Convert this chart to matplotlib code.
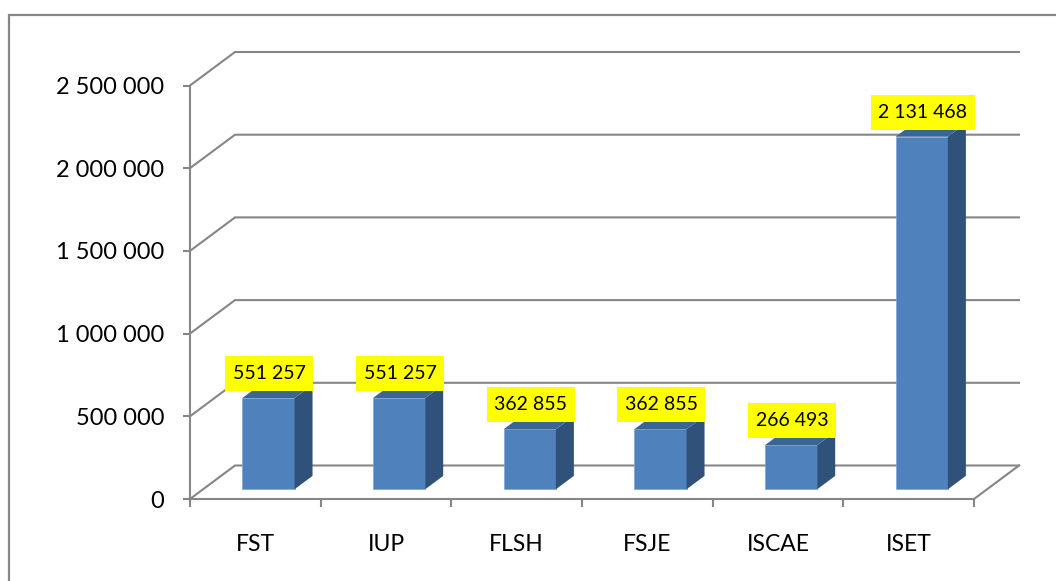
import matplotlib.pyplot as plt
from matplotlib.patches import Polygon, Rectangle
from matplotlib.ticker import FuncFormatter

categories = ['FST', 'IUP', 'FLSH', 'FSJE', 'ISCAE', 'ISET']
values = [551257, 551257, 362855, 362855, 266493, 2131468]
y_ticks = [0, 500000, 1000000, 1500000, 2000000, 2500000]

GRID = '#868686'
FRONT = '#4F81BD'
SIDE = '#30527A'
TOP = '#3A6595'

# pixels per data unit
PX_X = 130.67
PX_Y = 413.5 / 2500000

# depth of the fake 3d box, in data units
DEPTH_X = 45 / PX_X
DEPTH_Y = 33.5 / PX_Y
BAR_START = 0.29
BAR_DEPTH = 0.40
BAR_SHIFT = 0.10
BAR_WIDTH = 0.40


def fmt(v):
    return f'{int(v):,}'.replace(',', ' ')


plt.rcParams['font.family'] = ['Lato', 'DejaVu Sans']

fig = plt.figure(figsize=(10.56, 5.81), dpi=100)
ax = fig.add_axes([190 / 1056, 1 - 499 / 581, 784 / 1056, 413.5 / 581])
ax.set_xlim(0, 6)
ax.set_ylim(0, 2500000)
ax.patch.set_visible(False)

# outer chart frame, runs off the right and bottom of the image
fig.add_artist(Rectangle((9 / 1056, -0.05), 1.1, 1 + 0.05 - 15 / 581,
                         transform=fig.transFigure, fc='none', ec=GRID, lw=1.6))

for s in ['top', 'right']:
    ax.spines[s].set_visible(False)
for s in ['left', 'bottom']:
    ax.spines[s].set_color(GRID)
    ax.spines[s].set_linewidth(1.5)

# wall gridlines
for v in y_ticks:
    ax.plot([0, DEPTH_X, 6 + DEPTH_X], [v, v + DEPTH_Y, v + DEPTH_Y],
            color=GRID, lw=1.5, clip_on=False, zorder=1, solid_joinstyle='miter')
# right edge of the floor
ax.plot([6, 6 + DEPTH_X], [0, DEPTH_Y], color=GRID, lw=1.5, clip_on=False, zorder=1)

renderer = fig.canvas.get_renderer()

for i, v in enumerate(values):
    x0 = i + 0.5 + BAR_SHIFT - BAR_WIDTH / 2
    x1 = x0 + BAR_WIDTH
    y0 = BAR_START * DEPTH_Y
    y1 = y0 + v
    dx = BAR_DEPTH * DEPTH_X
    dy = BAR_DEPTH * DEPTH_Y
    ax.add_patch(Polygon([(x0, y0), (x1, y0), (x1, y1), (x0, y1)], fc=FRONT,
                         ec='#7FA6D6', lw=0.5, clip_on=False, zorder=3))
    ax.add_patch(Polygon([(x1, y0), (x1 + dx, y0 + dy), (x1 + dx, y1 + dy), (x1, y1)],
                         fc=SIDE, ec='none', clip_on=False, zorder=3))
    ax.add_patch(Polygon([(x0, y1), (x1, y1), (x1 + dx, y1 + dy), (x0 + dx, y1 + dy)],
                         fc=TOP, ec='none', clip_on=False, zorder=3))

    # yellow label box: 35 px high, sits 7 px above the bar, text sets its width
    xc = (x0 + x1) / 2 + 1 / PX_X
    yc = y1 + 24.5 / PX_Y
    txt = ax.text(xc, yc, fmt(v), ha='center', va='center', fontsize=14,
                  color='black', zorder=6, clip_on=False)
    w = (txt.get_window_extent(renderer).width + 15) / PX_X
    h = 35 / PX_Y
    ax.add_patch(Rectangle((xc - w / 2, yc - h / 2), w, h, fc='#FFFF00', ec='none',
                           clip_on=False, zorder=5))

ax.set_yticks(y_ticks)
ax.yaxis.set_major_formatter(FuncFormatter(lambda v, p: fmt(v)))
ax.tick_params(axis='y', length=5.4, width=1.5, color=GRID, pad=13, labelsize=17)

ax.set_xticks(range(7))
ax.set_xticklabels([])
ax.set_xticks([i + 0.5 for i in range(6)], minor=True)
ax.set_xticklabels(categories, minor=True)
ax.tick_params(axis='x', which='major', length=5.8, width=1.5, color=GRID)
ax.tick_params(axis='x', which='minor', length=0, pad=25, labelsize=16.5)

fig.savefig('out.png', dpi=100)
